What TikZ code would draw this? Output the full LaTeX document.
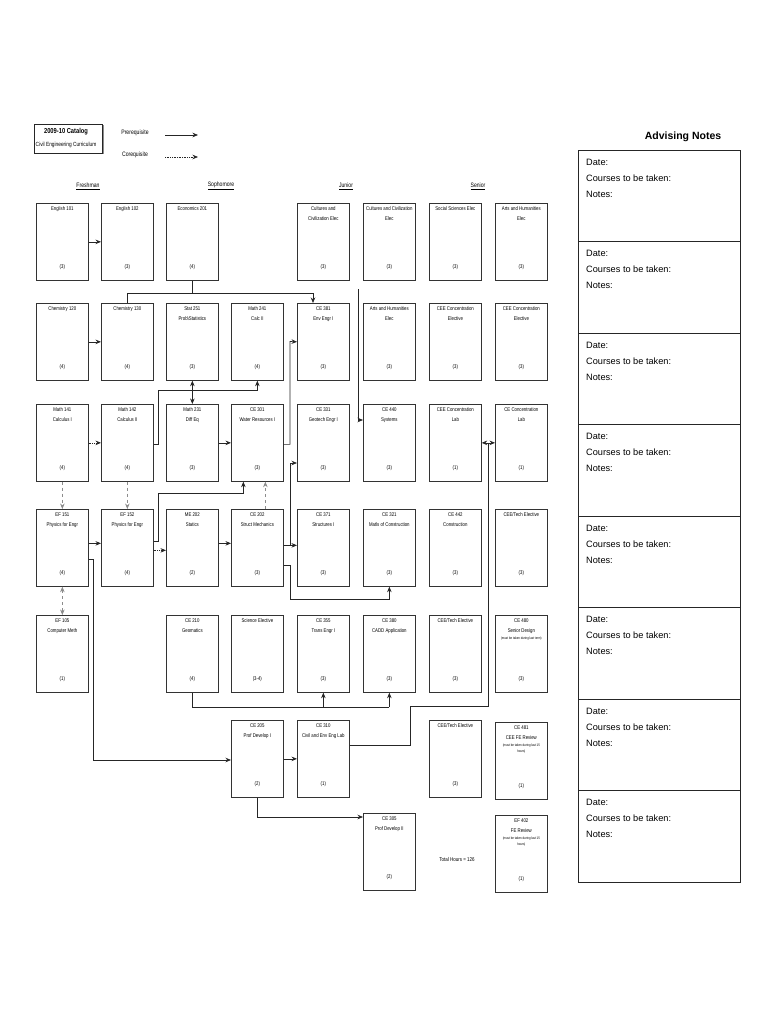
\documentclass[tikz,border=0pt]{standalone}
\usepackage{fontspec}
\setmainfont{Liberation Sans}
\newfontfamily\narrowfont{Liberation Sans}[FakeStretch=0.8]
\usetikzlibrary{arrows.meta,shadows}
\newcommand\smallnote[1]{{\fontsize{3.6}{6.5}\selectfont #1}}
\newcommand\course[5]{%
  \node[cbox] (#1) at (#2,#3) {};
  \node[ctext, anchor=north] (#1-t) at ([yshift=-3.5pt]#1.north) {#4};
  \node[ctext] (#1-c) at ([yshift=14pt]#1.south) {#5};
}
\begin{document}
\begin{tikzpicture}[x=1pt,y=-1pt,
  cbox/.style={draw=black!80, line width=0.7pt, fill=white, minimum width=52pt, minimum height=77pt, inner sep=0pt, anchor=north west},
  ctext/.style={font=\narrowfont\fontsize{5.4}{10}\selectfont, align=center, inner sep=0pt},
  hdr/.style={font=\narrowfont\fontsize{6.4}{8}\selectfont, inner sep=0pt},
  pre/.style={-{Stealth[length=5.5pt,width=4.5pt]}, line width=0.7pt, draw=black!85},
  co/.style={pre, densely dotted},
  cod/.style={pre, dashed, draw=black!45},
  link/.style={line width=0.7pt, draw=black!85},
  note/.style={font=\fontsize{9.2}{11}\selectfont, anchor=west, inner sep=0pt},
  dbl/.style={{Stealth[length=5.5pt,width=4.5pt]}-{Stealth[length=5.5pt,width=4.5pt]}}
]
\useasboundingbox[fill=white] (0,0) rectangle (770,1024);

% title and legend
\node[draw=black!85, line width=0.7pt, fill=white, minimum width=68pt, minimum height=29pt, inner sep=0pt,
  drop shadow={shadow xshift=1.5pt, shadow yshift=-1.5pt, fill=black!45, opacity=1}] (title) at (68,138.5) {};
\node[font=\narrowfont\bfseries\fontsize{7.2}{8}\selectfont, inner sep=0pt] (title1) at (66,132) {2009-10 Catalog};
\node[font=\narrowfont\fontsize{6}{8}\selectfont, inner sep=0pt] (title2) at (66,145) {Civil Engineering Curriculum};
\node[hdr] (lgpre) at (135,133) {Prerequisite};
\node[hdr] (lgco) at (135,155) {Corequisite};
\coordinate (lp1) at (165,135); \coordinate (lp2) at (198,135);
\coordinate (lc1) at (165,157); \coordinate (lc2) at (198,157);
\draw[pre] (lp1) -- (lp2);
\draw[co] (lc1) -- (lc2);

% year headers
\node[hdr] (fr) at (88,186) {\underline{Freshman}};
\node[hdr] (so) at (221,186) {\underline{Sophomore}};
\node[hdr] (ju) at (346,186) {\underline{Junior}};
\node[hdr] (se) at (478,186) {\underline{Senior}};

% row 1
\course{eng101}{36}{203}{English 101}{(3)}
\course{eng102}{101}{203}{English 102}{(3)}
\course{econ201}{166}{203}{Economics 201}{(4)}
\course{cult1}{297}{203}{Cultures and\\Civilization Elec}{(3)}
\course{cult2}{363}{203}{Cultures and Civilization\\Elec}{(3)}
\course{socsci}{429}{203}{Social Sciences Elec}{(3)}
\course{arts1}{495}{203}{Arts and Humanities\\Elec}{(3)}
% row 2
\course{chem120}{36}{303}{Chemistry 120}{(4)}
\course{chem130}{101}{303}{Chemistry 130}{(4)}
\course{stat251}{166}{303}{Stat 251\\Prob\textbackslash Statistics}{(3)}
\course{math241}{231}{303}{Math 241\\Calc II}{(4)}
\course{ce381}{297}{303}{CE 381\\Env Engr I}{(3)}
\course{arts2}{363}{303}{Arts and Humanities\\Elec}{(3)}
\course{ceeconc1}{429}{303}{CEE Concentration\\Elective}{(3)}
\course{ceeconc2}{495}{303}{CEE Concentration\\Elective}{(3)}
% row 3
\course{math141}{36}{404}{Math 141\\Calculus I}{(4)}
\course{math142}{101}{404}{Math 142\\Calculus II}{(4)}
\course{math231}{166}{404}{Math 231\\Diff Eq}{(3)}
\course{ce301}{231}{404}{CE 301\\Water Resources I}{(3)}
\course{ce331}{297}{404}{CE 331\\Geotech Engr I}{(3)}
\course{ce440}{363}{404}{CE 440\\Systems}{(3)}
\course{ceelab}{429}{404}{CEE Concentration\\Lab}{(1)}
\course{celab}{495}{404}{CE Concentration\\Lab}{(1)}
% row 4
\course{ef151}{36}{509}{EF 151\\Physics for Engr}{(4)}
\course{ef152}{101}{509}{EF 152\\Physics for Engr}{(4)}
\course{me202}{166}{509}{ME 202\\Statics}{(2)}
\course{ce202}{231}{509}{CE 202\\Struct Mechanics}{(3)}
\course{ce371}{297}{509}{CE 371\\Structures I}{(3)}
\course{ce321}{363}{509}{CE 321\\Matls of Construction}{(3)}
\course{ce442}{429}{509}{CE 442\\Construction}{(3)}
\course{ceetech1}{495}{509}{CEE/Tech Elective}{(3)}
% row 5
\course{ef105}{36}{615}{EF 105\\Computer Meth}{(1)}
\course{ce210}{166}{615}{CE 210\\Geomatics}{(4)}
\course{scielec}{231}{615}{Science Elective}{(3-4)}
\course{ce355}{297}{615}{CE 355\\Trans Engr I}{(3)}
\course{ce380}{363}{615}{CE 380\\CADD Application}{(3)}
\course{ceetech2}{429}{615}{CEE/Tech Elective}{(3)}
\course{ce480}{495}{615}{CE 480\\Senior Design\\[-3pt]\smallnote{(must be taken during last term)}}{(3)}
% row 6
\course{ce205}{231}{720}{CE 205\\Prof Develop I}{(2)}
\course{ce310}{297}{720}{CE 310\\Civil and Env Eng Lab}{(1)}
\course{ceetech3}{429}{720}{CEE/Tech Elective}{(3)}
\course{ce481}{495}{722}{CE 481\\CEE FE Review\\[-3pt]\smallnote{(must be taken during last 15}\\[-3.5pt]\smallnote{hours)}}{(1)}
% row 7
\course{ce305}{363}{813}{CE 305\\Prof Develop II}{(2)}
\course{ef402}{495}{815}{EF 402\\FE Review\\[-3pt]\smallnote{(must be taken during last 15}\\[-3.5pt]\smallnote{hours)}}{(1)}
\node[ctext, font=\narrowfont\fontsize{5.6}{7}\selectfont] (total) at (457,859) {Total Hours = 126};

% connectors
\draw[pre] (eng101) -- (eng102);
\draw[pre] (chem120) -- (chem130);
\draw[co] (math141) -- (math142);
\draw[pre] (math231) -- (ce301);
\draw[pre] ([yshift=4.5pt]ef151.east) -- ([yshift=4.5pt]ef152.west);
\draw[co] ([yshift=-2.5pt]ef152.east) -- ([yshift=-2.5pt]me202.west);
\draw[pre] ([yshift=4.5pt]me202.east) -- ([yshift=4.5pt]ce202.west);
\draw[pre] ([yshift=2.5pt]ce202.east) -- ([yshift=2.5pt]ce371.west);
\draw[pre] (ce205) -- (ce310);

\draw[cod] (math141) -- (ef151);
\draw[cod] (math142) -- (ef152);
\draw[cod, dbl] (ef151) -- (ef105);
\draw[cod] ([xshift=8pt]ce202.north) -- ([xshift=8pt]ce301.south);

\draw[pre, dbl] (stat251) -- (math231);
\draw[pre] ([yshift=-1.5pt]math142.east) -| (158,390) -| (math241.south);
\draw[pre] ([yshift=6.5pt]ef152.east) -| (158,493) -| ([xshift=-14pt]ce301.south);
\draw[pre] ([yshift=-1.5pt]ce301.east) -| (290,341.5) -- (ce381.west);
\draw[pre] ([yshift=2.5pt]ce202.east) -| (290,463) -- (ce331.west |- 0,463);
\draw[pre] (ce202.east |- 0,565) -| (290,599) -| (ce321.south);
\draw[pre] (chem130.north) |- (313,293) -- (ce381.north -| 313,0);
\draw[link] (econ201.south) -- (econ201.south |- 0,293);
\coordinate (sysin) at (358,289);
\draw[pre] (sysin) |- (ce440.west |- 0,420);
\draw[pre, dbl] (ceelab) -- (celab);
\draw[link] (ce310.east |- 0,745) -| (410,706) -| (488,442.5);
\draw[link] (ce210.south) |- (389,707);
\draw[pre] (ce355.south |- 0,707) -- (ce355.south);
\draw[pre] (ce380.south |- 0,707) -- (ce380.south);
\draw[pre] (ef151.east |- 0,559) -| (93,760) -- (ce205.west |- 0,760);
\draw[pre] (ce205.south) |- (ce305.west |- 0,817);

% advising notes
\node[font=\bfseries\fontsize{10.5}{12}\selectfont, inner sep=0pt] (advtitle) at (683,137) {Advising Notes};
\draw[line width=0.6pt, draw=black!85] (578,150) rectangle (740,882);
\foreach \k in {0,...,7} {
  \draw[line width=0.6pt, draw=black!85] (578,150+\k*91.5) -- (740,150+\k*91.5);
  \node[note] (date\k) at (586,162+\k*91.5) {Date:};
  \node[note] (ctbt\k) at (586,178+\k*91.5) {Courses to be taken:};
  \node[note] (notes\k) at (586,194+\k*91.5) {Notes:};
}
\end{tikzpicture}
\end{document}
